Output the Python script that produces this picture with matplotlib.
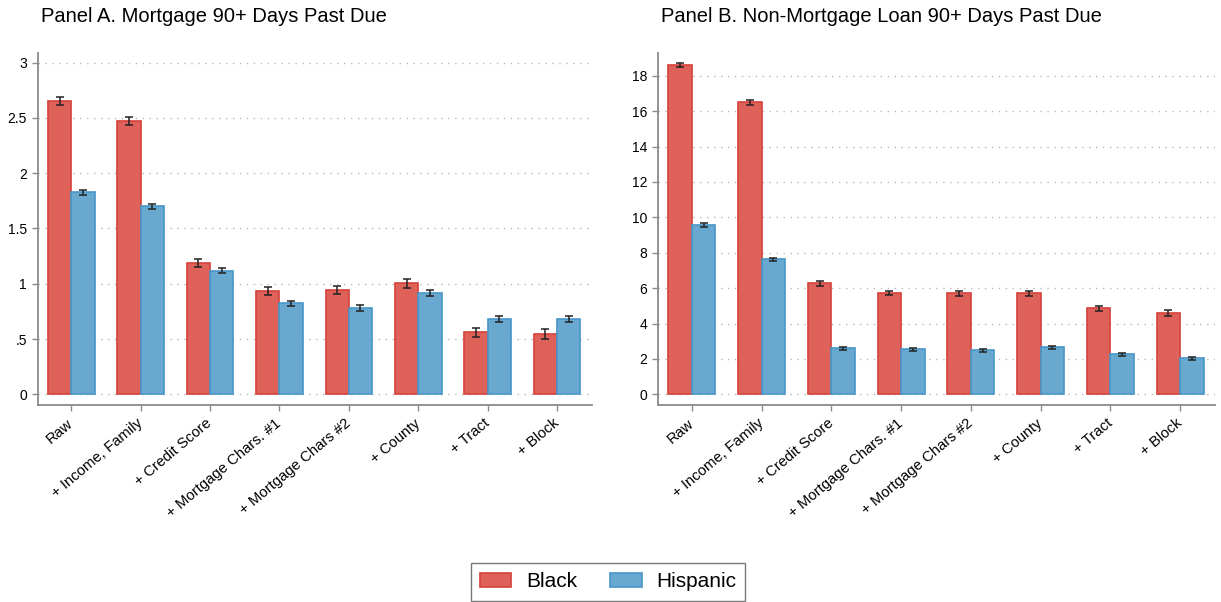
import matplotlib
matplotlib.use("Agg")
import matplotlib.pyplot as plt
import numpy as np
from matplotlib.patches import Patch

plt.rcParams['font.family'] = ['Liberation Sans', 'DejaVu Sans']

categories = ["Raw", "+ Income, Family", "+ Credit Score", "+ Mortgage Chars. #1",
              "+ Mortgage Chars #2", "+ County", "+ Tract", "+ Block"]
series_names = ["Black", "Hispanic"]

# Panel A: Mortgage 90+ days past due
a_black = [2.65, 2.47, 1.185, 0.932, 0.941, 1.005, 0.561, 0.545]
a_black_err = [0.036, 0.035, 0.038, 0.036, 0.036, 0.039, 0.041, 0.044]
a_hisp = [1.828, 1.70, 1.116, 0.822, 0.778, 0.914, 0.680, 0.680]
a_hisp_err = [0.024, 0.023, 0.023, 0.024, 0.026, 0.027, 0.027, 0.029]
a_yticks = [0, 0.5, 1, 1.5, 2, 2.5, 3]
a_yticklabels = ["0", ".5", "1", "1.5", "2", "2.5", "3"]

# Panel B: Non-mortgage loan 90+ days past due
b_black = [18.6, 16.5, 6.28, 5.72, 5.70, 5.71, 4.87, 4.60]
b_black_err = [0.13, 0.13, 0.13, 0.13, 0.13, 0.13, 0.14, 0.15]
b_hisp = [9.57, 7.64, 2.60, 2.55, 2.49, 2.66, 2.27, 2.04]
b_hisp_err = [0.09, 0.09, 0.09, 0.09, 0.08, 0.08, 0.08, 0.08]
b_yticks = [0, 2, 4, 6, 8, 10, 12, 14, 16, 18]
b_yticklabels = [str(v) for v in b_yticks]

titles = ["Panel A. Mortgage 90+ Days Past Due",
          "Panel B. Non-Mortgage Loan 90+ Days Past Due"]

red_face, red_edge = "#DE625A", "#D6413A"
blue_face, blue_edge = "#69A9D0", "#4896C8"
spine_col = "#8a8a8a"

fig = plt.figure(figsize=(12.21, 6.02), dpi=100)
axA = fig.add_axes([0.0311, 0.3272, 0.4535, 0.5853])
axB = fig.add_axes([0.5392, 0.3272, 0.4559, 0.5853])

def draw(ax, black, berr, hisp, herr, yticks, ylabels, ylim, title):
    x = np.arange(len(categories))
    w = 0.336
    ax.bar(x - w/2, black, w, color=red_face, edgecolor=red_edge, linewidth=1.2, zorder=3)
    ax.bar(x + w/2, hisp, w, color=blue_face, edgecolor=blue_edge, linewidth=1.2, zorder=3)
    ax.errorbar(x - w/2, black, yerr=berr, fmt='none', ecolor='#222222',
                elinewidth=1.1, capsize=2.8, capthick=1.1, zorder=4)
    ax.errorbar(x + w/2, hisp, yerr=herr, fmt='none', ecolor='#222222',
                elinewidth=1.1, capsize=2.8, capthick=1.1, zorder=4)
    ax.set_xlim(-0.48, 7.5)
    ax.set_ylim(*ylim)
    ax.set_yticks(yticks)
    ax.set_yticklabels(ylabels, fontsize=10)
    ax.set_xticks(x)
    ax.set_xticklabels(categories, fontsize=10.7, rotation=40, ha='right',
                       va='center', rotation_mode='anchor')
    for s in ['top', 'right']:
        ax.spines[s].set_visible(False)
    for s in ['left', 'bottom']:
        ax.spines[s].set_color(spine_col)
        ax.spines[s].set_linewidth(1.3)
    ax.tick_params(axis='both', colors=spine_col, labelcolor='black',
                   length=4, width=1.0)
    ax.tick_params(axis='x', pad=8)
    ax.tick_params(axis='y', pad=4)
    ax.yaxis.grid(True, linestyle=(0, (1, 4)), color='#b8b8b8', linewidth=1.0, zorder=0)
    ax.set_axisbelow(True)
    ax.set_title(title, loc='left', fontsize=14.5, pad=22, x=0.005)

draw(axA, a_black, a_black_err, a_hisp, a_hisp_err, a_yticks, a_yticklabels,
     (-0.097, 3.09), titles[0])
draw(axB, b_black, b_black_err, b_hisp, b_hisp_err, b_yticks, b_yticklabels,
     (-0.6, 19.3), titles[1])

handles = [Patch(facecolor=red_face, edgecolor=red_edge, linewidth=1.2),
           Patch(facecolor=blue_face, edgecolor=blue_edge, linewidth=1.2)]
leg = fig.legend(handles, series_names, loc='lower center', bbox_to_anchor=(0.498, 0.002),
                 ncol=2, fontsize=15, frameon=True, fancybox=False,
                 handlelength=1.5, handleheight=0.6, handletextpad=0.7,
                 columnspacing=1.6, borderpad=0.45, borderaxespad=0.0,
                 edgecolor='#555555')
leg.get_frame().set_linewidth(1.0)

fig.savefig("out.png", dpi=100)
